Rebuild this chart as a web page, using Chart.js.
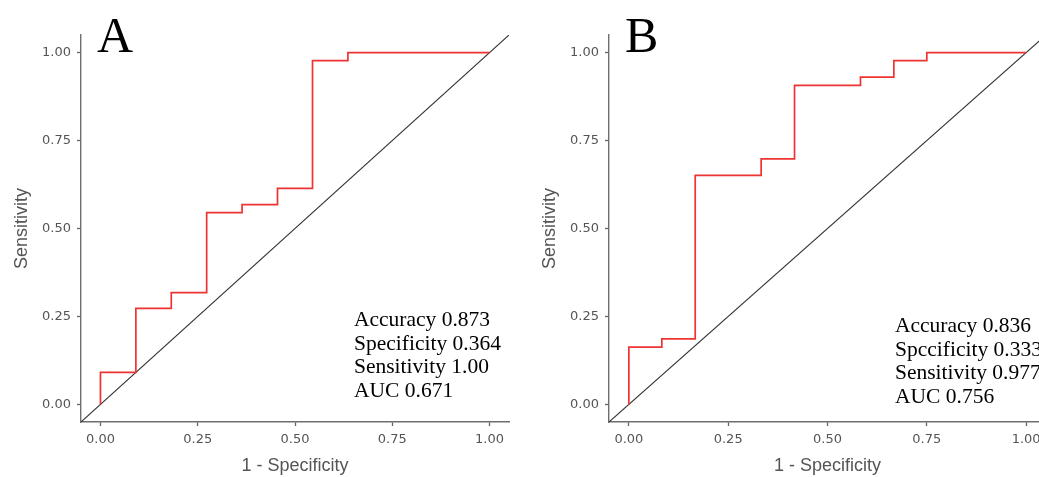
<!DOCTYPE html>
<html>
<head>
<meta charset="utf-8">
<script src="https://cdn.jsdelivr.net/npm/chart.js@4.4.1/dist/chart.umd.min.js"></script>
<style>
  html, body { margin: 0; padding: 0; background: #fff; overflow: hidden; }
  .panel { position: absolute; top: 0; height: 477px; }
  #panelA { left: 0; width: 520px; }
  #panelB { left: 528px; width: 529px; }
</style>
</head>
<body>
<div class="panel" id="panelA"><canvas id="rocA"></canvas></div>
<div class="panel" id="panelB"><canvas id="rocB"></canvas></div>
<script>
// ROC points (1 - specificity, sensitivity)
const fprA = [0, 0, 0.091, 0.182, 0.273, 0.364, 0.455, 0.545, 0.636, 1.0];
const tprA = [0, 0.091, 0.273, 0.318, 0.545, 0.568, 0.614, 0.977, 1.0, 1.0];
const fprB = [0, 0, 0.083, 0.167, 0.333, 0.417, 0.583, 0.667, 0.75, 1.0];
const tprB = [0, 0.163, 0.186, 0.651, 0.698, 0.907, 0.930, 0.977, 1.0, 1.0];

const statsA = ["Accuracy 0.873", "Specificity 0.364", "Sensitivity 1.00", "AUC 0.671"];
const statsB = ["Accuracy 0.836", "Spccificity 0.333", "Sensitivity 0.977", "AUC 0.756"];

const tickVals = [0, 0.25, 0.5, 0.75, 1.0];
const axisRange = [-0.05, 1.05]; // also the ends of the chance diagonal

const annotate = {
  id: "annotate",
  afterDraw(chart, args, o) {
    const ctx = chart.ctx;
    const area = chart.chartArea;
    ctx.save();
    ctx.fillStyle = "#000";
    ctx.textAlign = "left";
    ctx.textBaseline = "alphabetic";
    ctx.font = "50px 'Liberation Serif'";
    ctx.fillText(o.letter, area.left + 16, area.top + 17);
    ctx.font = "21.5px 'Liberation Serif'";
    o.lines.forEach((t, i) => {
      ctx.fillText(t, area.left + o.textX, area.top + o.textY + i * 23.5);
    });
    ctx.restore();
  }
};

function makeRoc(id, fpr, tpr, letter, stats, textX, textY) {
  const axisText = { family: "Liberation Sans", size: 18 };
  const tickFont = { family: "DejaVu Sans", size: 13 };
  new Chart(document.getElementById(id), {
    type: "scatter",
    data: {
      datasets: [
        {
          data: fpr.map((x, i) => ({ x: x, y: tpr[i] })),
          showLine: true,
          stepped: "before",
          borderColor: "#ee3333",
          borderWidth: 1.7,
          pointRadius: 0,
          fill: false
        },
        {
          data: axisRange.map(v => ({ x: v, y: v })),
          showLine: true,
          borderColor: "#333",
          borderWidth: 1.1,
          pointRadius: 0,
          fill: false
        }
      ]
    },
    options: {
      responsive: true,
      maintainAspectRatio: false,
      animation: false,
      layout: { padding: { left: 0, right: 11, top: 35, bottom: 0 } },
      plugins: {
        legend: { display: false },
        tooltip: { enabled: false },
        annotate: { letter: letter, lines: stats, textX: textX, textY: textY }
      },
      scales: {
        x: {
          type: "linear",
          min: axisRange[0],
          max: axisRange[1],
          afterBuildTicks: s => { s.ticks = tickVals.map(v => ({ value: v })); },
          afterFit: s => { s.height = 55; },
          grid: { drawOnChartArea: false, drawTicks: true, tickLength: 4, tickColor: "#666", tickWidth: 1.3 },
          border: { display: true, color: "#6e6e6e", width: 1.4 },
          ticks: { color: "#555", font: tickFont, padding: 6, maxRotation: 0, autoSkip: false,
                   callback: v => v.toFixed(2) },
          title: { display: true, text: "1 - Specificity", color: "#555", font: axisText,
                   padding: { top: 0, bottom: 0 } }
        },
        y: {
          type: "linear",
          min: axisRange[0],
          max: axisRange[1],
          afterBuildTicks: s => { s.ticks = tickVals.map(v => ({ value: v })); },
          afterFit: s => { s.width = 81; },
          grid: { drawOnChartArea: false, drawTicks: true, tickLength: 4, tickColor: "#666", tickWidth: 1.3 },
          border: { display: true, color: "#6e6e6e", width: 1.4 },
          ticks: { color: "#555", font: tickFont, padding: 6, autoSkip: false,
                   callback: v => v.toFixed(2) },
          title: { display: true, text: "Sensitivity", color: "#555", font: axisText,
                   padding: { top: 11, bottom: 0 } }
        }
      }
    },
    plugins: [annotate]
  });
}

makeRoc("rocA", fprA, tprA, "A", statsA, 273, 291);
makeRoc("rocB", fprB, tprB, "B", statsB, 286, 297);
</script>
</body>
</html>
